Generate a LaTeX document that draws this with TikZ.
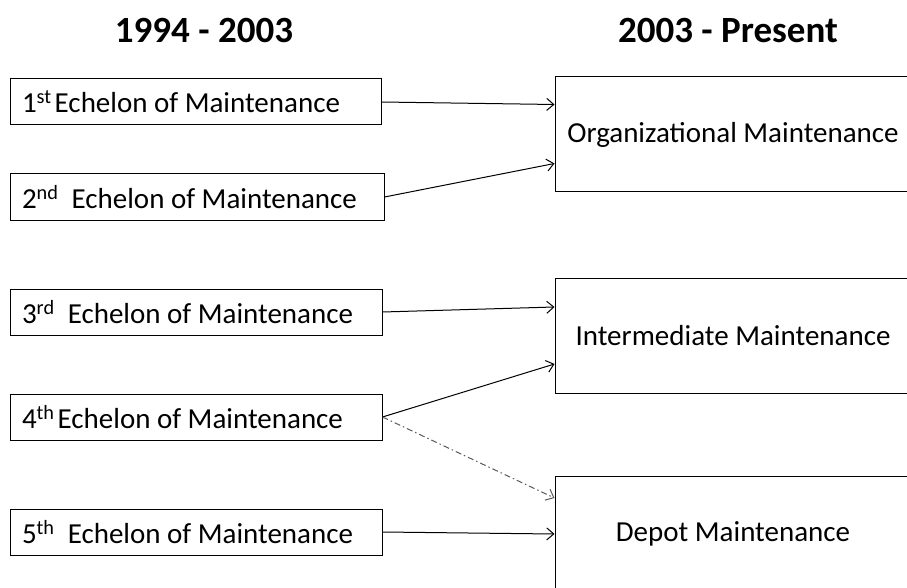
\documentclass[tikz,border=0pt]{standalone}
\usepackage{fontspec}
\setmainfont{Carlito}
\usetikzlibrary{arrows.meta}

\tikzset{
  oldbox/.style={draw, line width=1pt, minimum height=46pt, inner xsep=12pt,
    text width=#1, align=flush left, font=\fontsize{29}{33}\selectfont},
  newbox/.style={draw, line width=1pt, minimum width=356pt, minimum height=115pt,
    font=\fontsize{29}{33}\selectfont},
  period/.style={anchor=base, font=\bfseries\fontsize{37}{40}\selectfont},
  link/.style={->, line width=1pt, >={Straight Barb[length=7pt,width=12pt]}},
}

\begin{document}
\begin{tikzpicture}[x=1pt, y=-1pt]
      \useasboundingbox (0,0) rectangle (907,588);

      \node[period] (old) at (204,43) {1994 - 2003};
      \node[period] (new) at (728,43) {2003 - Present};

      % echelons, 1994 - 2003
      \node[oldbox=347pt] (e1) at (195.5,102) {1\textsuperscript{st}\hspace{3pt}Echelon of Maintenance};
      \node[oldbox=350pt] (e2) at (197,197) {2\textsuperscript{nd}\ \ Echelon of Maintenance};
      \node[oldbox=348pt] (e3) at (196,312) {3\textsuperscript{rd}\ \ Echelon of Maintenance};
      \node[oldbox=348pt] (e4) at (196,417) {4\textsuperscript{th}\hspace{3pt}Echelon of Maintenance};
      \node[oldbox=348pt] (e5) at (196,532) {5\textsuperscript{th}\ \ Echelon of Maintenance};

      % levels, 2003 - present
      \node[newbox] (org) at (733,134.5) {Organizational Maintenance};
      \node[newbox] (int) at (733,336) {Intermediate Maintenance};
      \node[newbox] (dep) at (733,534) {Depot Maintenance};

      \draw[link] (e1.east) -- ([yshift=30pt]org.west);
      \draw[link] (e2.east) -- ([yshift=-29pt]org.west);
      \draw[link] (e3.east) -- ([yshift=29pt]int.west);
      \draw[link] (e4.east) -- ([yshift=-28pt]int.west);
      \draw[link, black!65, dash pattern=on 6pt off 3pt on 1.5pt off 3pt] (e4.east) -- ([yshift=36pt]dep.west);
      \draw[link] (e5.east) -- (dep.west);
\end{tikzpicture}
\end{document}
